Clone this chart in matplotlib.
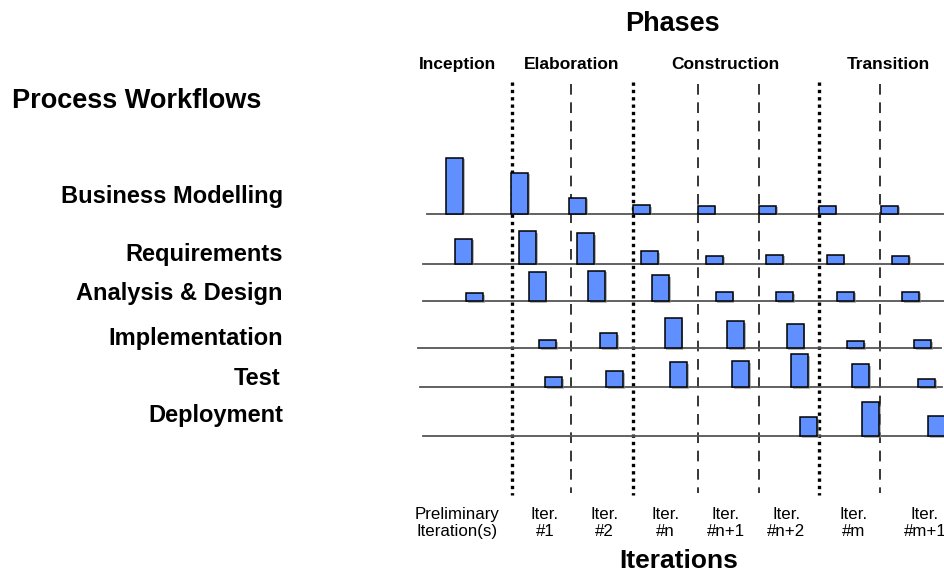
import matplotlib
matplotlib.use("Agg")
import matplotlib.pyplot as plt
import matplotlib.patheffects as pe

plt.rcParams["font.family"] = ["Liberation Sans", "DejaVu Sans"]

# Diagram data (pixel layout of the original figure)
phases = ["Inception", "Elaboration", "Construction", "Transition"]
phase_x = [457, 572, 725, 888]

workflows = ["Business Modelling", "Requirements", "Analysis & Design",
             "Implementation", "Test", "Deployment"]
label_x = [283, 283, 283, 283, 280.5, 283]
label_y = [193, 251, 290.5, 335.5, 375.5, 412.5]
baselines = [213.5, 263.5, 301, 348, 387, 436]
line_start = [427, 423, 423, 418, 420, 422.6]
line_end = [945, 945, 945, 940.5, 941.5, 945]

iterations = ["Preliminary\nIteration(s)", "Iter.\n#1", "Iter.\n#2", "Iter.\n#n",
              "Iter.\n#n+1", "Iter.\n#n+2", "Iter.\n#m", "Iter.\n#m+1"]
iter_x = [457, 545, 604.5, 665.5, 726, 786.5, 854, 925]

# effort per workflow and iteration (bar heights), 0 = no activity
bm_effort = [56, 41, 16, 8.5, 8, 8, 7.5, 8]
req_effort = [25, 32.5, 30.5, 12.5, 7.7, 8.7, 8.3, 8]
ad_effort = [8, 29, 30.3, 25.8, 8.7, 8.7, 9.3, 9.3]
impl_effort = [0, 7.7, 15, 30, 27, 24.4, 7, 8]
test_effort = [0, 10, 15.7, 25, 26, 33, 23, 8.5]
dep_effort = [0, 0, 0, 0, 0, 18.7, 33.7, 20]

# left edge of each bar
bm_left = [446.2, 511.2, 569, 632.9, 697.5, 759, 818.5, 881.4]
req_left = [455.3, 519.2, 577.3, 641.2, 705.9, 766.4, 826.5, 892.2]
ad_left = [466, 528.6, 588, 652, 715.6, 776, 837.3, 902]
impl_left = [0, 539.4, 600.2, 664.5, 727, 786.5, 847.3, 914.4]
test_left = [0, 545, 606, 670, 732.3, 791.4, 852.2, 918]
dep_left = [0, 0, 0, 0, 0, 800.4, 862, 928.3]

efforts = [bm_effort, req_effort, ad_effort, impl_effort, test_effort, dep_effort]
lefts = [bm_left, req_left, ad_left, impl_left, test_left, dep_left]

dotted_x = [512, 633, 818.5]
dashed_x = [570.5, 697.5, 759, 879.5]

fig = plt.figure(figsize=(9.45, 5.74), dpi=100)
ax = fig.add_axes([0, 0, 1, 1])
ax.set_xlim(0, 945)
ax.set_ylim(574, 0)
ax.axis("off")

# phase / iteration dividers
for x in dotted_x:
    ax.plot([x, x], [82, 495], color="black", lw=2.4, linestyle=(0, (1, 1.2)), zorder=1)
for x in dashed_x:
    ax.plot([x, x], [84, 493], color="black", lw=1.1, linestyle=(0, (7, 5)), zorder=1)

# workflow baselines and bars
shadow = [pe.SimplePatchShadow(offset=(1.2, -1.2), shadow_rgbFace="#888888", alpha=0.6), pe.Normal()]
for i, name in enumerate(workflows):
    y0 = baselines[i]
    ax.plot([line_start[i], line_end[i]], [y0, y0], color="#555555", lw=1.3, zorder=2)
    xs = [l for l, h in zip(lefts[i], efforts[i]) if h > 0]
    hs = [-h for h in efforts[i] if h > 0]
    bars = ax.bar(xs, hs, width=17, bottom=y0, align="edge", color="#6090ff",
                  edgecolor="black", linewidth=1.1, zorder=3)
    for b in bars:
        b.set_path_effects(shadow)
    ax.text(label_x[i], label_y[i] + 3, name, ha="right", va="center", fontsize=17,
            fontweight="bold")

# titles
ax.text(672, 24, "Phases", ha="center", va="center", fontsize=19.5, fontweight="bold")
ax.text(12, 100.5, "Process Workflows", ha="left", va="center", fontsize=19.5,
        fontweight="bold")
ax.text(679, 560.5, "Iterations", ha="center", va="center", fontsize=19,
        fontweight="bold")

for name, x in zip(phases, phase_x):
    ax.text(x, 64.5, name, ha="center", va="center", fontsize=12.5, fontweight="bold")

for name, x in zip(iterations, iter_x):
    ax.text(x, 523, name, ha="center", va="center", fontsize=12.2, linespacing=1.2)

fig.savefig("out.png", dpi=100)
